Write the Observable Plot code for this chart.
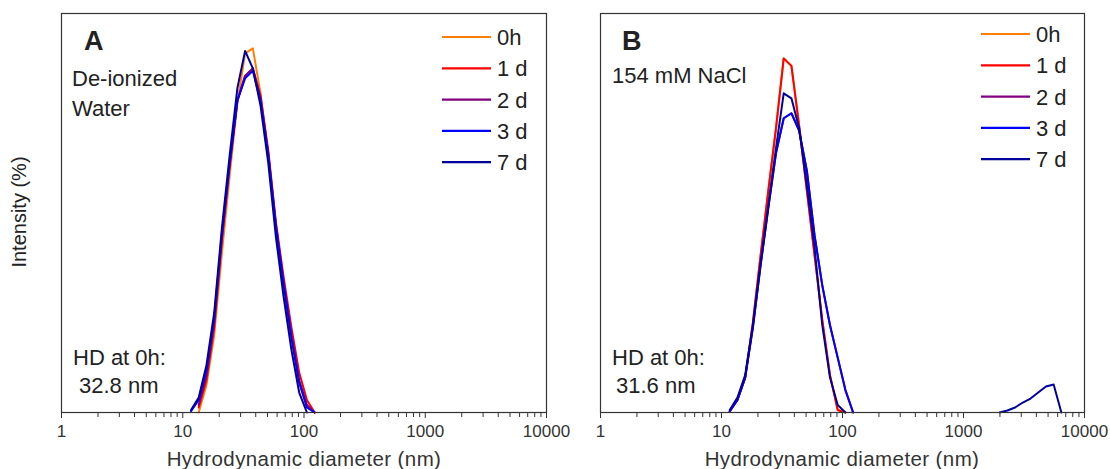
<!DOCTYPE html>
<html>
<head>
<meta charset="utf-8">
<script src="https://cdn.jsdelivr.net/npm/d3@7"></script>
<script src="https://cdn.jsdelivr.net/npm/@observablehq/plot@0.6"></script>
<style>
  html, body { margin: 0; padding: 0; background: #fff; }
  #wrap { position: relative; width: 1110px; height: 469px; overflow: hidden; }
  #wrap svg { position: absolute; top: 0; }
  svg text { font-family: "Liberation Sans", Arial, sans-serif; }
</style>
</head>
<body>
<div id="wrap"></div>
<script>
// ---- data ----
const seriesNames = ["0h", "1 d", "2 d", "3 d", "7 d"];
const seriesColors = ["#FF8000", "#FF0000", "#800080", "#0000FF", "#00009C"];
const sizes = [11.7, 13.54, 15.69, 18.17, 21.04, 24.36, 28.21, 32.67, 37.84, 43.82, 50.75, 58.77, 68.06, 78.82, 91.28, 105.7, 122.4, 141.8];
const sizesLarge = [1990, 2305, 2669, 3091, 3580, 4145, 4801, 5560, 6439];

// Panel A (de-ionized water), intensity %
const waterA_0h = [null, 0.0, 1.1, 3.1, 6.4, 9.5, 12.4, 14.4, 14.6, 12.8, 10.3, 7.3, 4.9, 2.9, 1.2, 0.2, 0.0, null];
const waterA_1d = [null, 0.2, 1.3, 3.4, 6.9, 9.9, 12.5, 13.5, 13.8, 12.7, 10.5, 7.6, 5.4, 3.4, 1.6, 0.5, 0.0, null];
const waterA_2d = [null, 0.3, 1.5, 3.6, 7.0, 9.9, 12.5, 13.5, 13.8, 12.6, 10.4, 7.5, 5.2, 3.1, 1.3, 0.3, 0.0, null];
const waterA_3d = [0.05, 0.5, 1.7, 3.8, 7.2, 10.0, 12.5, 13.4, 13.7, 12.5, 10.3, 7.4, 5.1, 3.0, 1.2, 0.2, 0.0, null];
const waterA_7d = [0.1, 0.6, 1.9, 4.0, 7.4, 10.3, 13.0, 14.5, 13.8, 12.3, 10.0, 7.0, 4.6, 2.5, 0.8, 0.0, null, null];

// Panel B (154 mM NaCl), intensity %
const salineB_0h = [0.05, 0.5, 1.4, 3.6, 6.3, 8.9, 11.4, 14.2, 13.9, 11.5, 8.9, 6.3, 3.7, 1.5, 0.1, 0.0, null, null];
const salineB_1d = [0.05, 0.5, 1.4, 3.6, 6.3, 8.9, 11.4, 14.2, 13.9, 11.5, 8.9, 6.3, 3.7, 1.5, 0.1, 0.0, null, null];
const salineB_2d = [0.05, 0.5, 1.4, 3.4, 5.9, 8.2, 10.4, 11.8, 12.0, 11.3, 9.7, 7.1, 5.1, 3.5, 2.2, 0.9, 0.0, null];
const salineB_3d = [0.05, 0.5, 1.4, 3.4, 5.9, 8.2, 10.4, 11.8, 12.0, 11.3, 9.7, 7.1, 5.1, 3.5, 2.2, 0.9, 0.0, null];
const salineB_7d = [0.1, 0.6, 1.5, 3.5, 6.0, 8.3, 10.6, 12.8, 12.6, 11.4, 9.1, 6.6, 3.5, 1.4, 0.3, 0.0, null, null];
const salineB_7d_large = [0.0, 0.08, 0.2, 0.4, 0.56, 0.8, 1.04, 1.12, 0.0];

const majorTicks = [1, 10, 100, 1000, 10000];
const minorTicks = [2,3,4,5,6,7,8,9, 20,30,40,50,60,70,80,90, 200,300,400,500,600,700,800,900, 2000,3000,4000,5000,6000,7000,8000,9000];

// ---- build tables ----
function rows(arr, name, xs, seg) {
  return xs.map((x, i) => ({x, y: arr[i], series: name, seg: name + seg}));
}
const dataA = [
  ...rows(waterA_0h, "0h", sizes, "a"),
  ...rows(waterA_1d, "1 d", sizes, "a"),
  ...rows(waterA_2d, "2 d", sizes, "a"),
  ...rows(waterA_3d, "3 d", sizes, "a"),
  ...rows(waterA_7d, "7 d", sizes, "a")
];
const dataB = [
  ...rows(salineB_0h, "0h", sizes, "a"),
  ...rows(salineB_1d, "1 d", sizes, "a"),
  ...rows(salineB_2d, "2 d", sizes, "a"),
  ...rows(salineB_3d, "3 d", sizes, "a"),
  ...rows(salineB_7d, "7 d", sizes, "a"),
  ...rows(salineB_7d_large, "7 d", sizesLarge, "b")
];

const W = 555, H = 469;
function panel(data, marginLeft, marginRight) {
  return Plot.plot({
    width: W, height: H,
    marginLeft, marginRight, marginTop: 13, marginBottom: 57,
    style: {fontFamily: "Liberation Sans, Arial, sans-serif", fontSize: "16px", color: "#333", background: "none", overflow: "visible"},
    x: {type: "log", domain: [1, 10000]},
    y: {domain: [0, 16], axis: null},
    color: {domain: seriesNames, range: seriesColors},
    marks: [
      Plot.line(data, {x: "x", y: "y", z: "seg", stroke: "series", strokeWidth: 2, strokeLinejoin: "round"}),
      Plot.axisX({ticks: minorTicks, tickSize: 5, tickFormat: () => "", label: null, stroke: "#333"}),
      Plot.axisX({ticks: majorTicks, tickSize: 6, tickPadding: 6, tickFormat: d => String(d), label: null, stroke: "#333", fill: "#333", fontSize: 17}),
      Plot.frame({stroke: "#333", strokeWidth: 1.2})
    ]
  });
}

const wrap = document.getElementById("wrap");
const svgA = panel(dataA, 61, 9);
const svgB = panel(dataB, 45, 26);
svgA.style.left = "0px";
svgB.style.left = "555px";
wrap.appendChild(svgB);
wrap.appendChild(svgA);

function decorate(svg, opts) {
  const g = d3.select(svg).append("g").attr("fill", "#222").attr("text-anchor", "start");
  const t = (x, y, s, size, weight) => g.append("text").attr("x", x).attr("y", y)
    .attr("text-anchor", "start")
    .attr("font-size", size).attr("font-weight", weight || "normal").text(s);
  t(opts.letterX, 50, opts.letter, 27, "bold");
  opts.notes.forEach(n => t(n[0], n[1], n[2], 22));
  // legend
  seriesNames.forEach((name, i) => {
    const cy = opts.legY + i * 31.3;
    g.append("line").attr("x1", opts.legX).attr("x2", opts.legX + 49)
      .attr("y1", cy).attr("y2", cy).attr("stroke", seriesColors[i]).attr("stroke-width", 2.2);
    t(opts.legX + 55, cy + 8, name, 22);
  });
  // x title
  g.append("text").attr("x", opts.titleX).attr("y", 466).attr("text-anchor", "middle")
    .attr("font-size", 20.5).attr("letter-spacing", "0.4px").attr("fill", "#333").text("Hydrodynamic diameter (nm)");
}

decorate(svgA, {
  letter: "A", letterX: 84,
  notes: [[72, 86, "De-ionized"], [72, 116, "Water"], [73, 365, "HD at 0h:"], [79, 393, "32.8 nm"]],
  legX: 442, legY: 37, titleX: 304
});
decorate(svgB, {
  letter: "B", letterX: 622 - 555,
  notes: [[612 - 555, 83, "154 mM NaCl"], [612 - 555, 365, "HD at 0h:"], [616 - 555, 393, "31.6 nm"]],
  legX: 981 - 555, legY: 34, titleX: 842 - 555
});

d3.select(svgA).append("text")
  .attr("transform", "translate(26,212) rotate(-90)")
  .attr("text-anchor", "middle").attr("font-size", 20).attr("fill", "#222")
  .text("Intensity (%)");
</script>
</body>
</html>
